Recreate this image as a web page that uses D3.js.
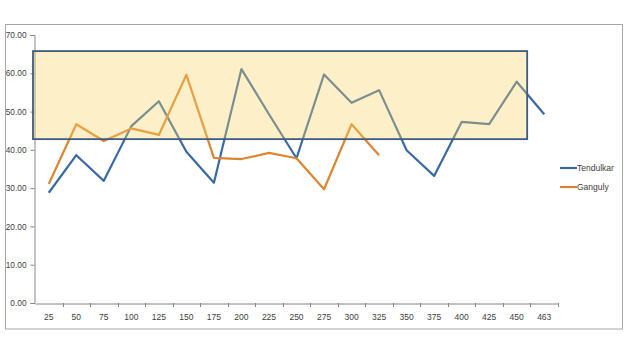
<!DOCTYPE html>
<html><head><meta charset="utf-8">
<script src="https://cdn.jsdelivr.net/npm/d3@7/dist/d3.min.js"></script>
<style>body{margin:0;background:#fff}svg{display:block}text{font-family:"Liberation Sans","Open Sans",sans-serif;fill:#404040}</style>
</head><body><svg id="c" width="628" height="355"></svg>
<script>
const categories = ["25","50","75","100","125","150","175","200","225","250","275","300","325","350","375","400","425","450","463"];
const tendulkar = [28.8,38.6,31.9,46.2,52.7,39.5,31.4,61.1,49.3,37.8,59.7,52.3,55.6,39.9,33.2,47.3,46.7,57.8,49.3];
const ganguly = [31.1,46.7,42.3,45.6,43.9,59.6,37.9,37.6,39.2,37.8,29.7,46.7,38.6];
const yTicks = [0,10,20,30,40,50,60,70];
const highlightRange = [42.8,65.8];
const seriesNames = ["Tendulkar","Ganguly"];
const colors = ["#3A6AA6","#DD8530"];

const svg = d3.select("#c");
const L=35, R=558, T=35, B=303;
svg.append("rect").attr("x",5.5).attr("y",24.5).attr("width",617).attr("height",304.5)
  .attr("fill","#fff").attr("stroke","#A6A6A6").attr("stroke-width",1);

const x = d3.scaleBand().domain(categories).range([L,R]);
const y = d3.scaleLinear().domain([0,70]).range([B,T]);

const yAxis = svg.append("g").attr("transform",`translate(${L-0.5},0)`)
  .call(d3.axisLeft(y).tickValues(yTicks).tickFormat(d3.format(".2f")).tickSize(4).tickPadding(4));
yAxis.select(".domain").attr("stroke","#868686");
yAxis.selectAll(".tick line").attr("stroke","#868686");
yAxis.selectAll("text").attr("font-size",8.3).attr("fill","#404040");

const xAxis = svg.append("g").attr("transform",`translate(0,${B+0.5})`)
  .call(d3.axisBottom(x).tickSize(0).tickPadding(10));
xAxis.select(".domain").attr("stroke","#868686");
xAxis.selectAll("text").attr("font-size",8.5).attr("fill","#404040");
svg.append("g").selectAll("line").data(categories).join("line")
  .attr("x1",(d,i)=>Math.round(L+x.step()*(i+1))+0.5).attr("x2",(d,i)=>Math.round(L+x.step()*(i+1))+0.5)
  .attr("y1",B).attr("y2",B+4).attr("stroke","#868686");

const line = d3.line().x((d,i)=>x(categories[i])+x.bandwidth()/2).y(d=>y(d));
[tendulkar,ganguly].forEach((s,k)=>{
  svg.append("path").datum(s).attr("d",line).attr("fill","none")
    .attr("stroke",colors[k]).attr("stroke-width",2.2).attr("stroke-linejoin","round");
});

const rx0 = L-2, rx1 = x("450")+x.bandwidth()*0.88;
svg.append("rect").attr("x",rx0).attr("y",y(highlightRange[1]))
  .attr("width",rx1-rx0).attr("height",y(highlightRange[0])-y(highlightRange[1]))
  .attr("fill","rgb(250,212,100)").attr("fill-opacity",0.35)
  .attr("stroke","#3E5B80").attr("stroke-width",1.8);

const lg = svg.append("g");
seriesNames.forEach((n,k)=>{
  const ly = 168 + k*19;
  lg.append("line").attr("x1",560).attr("x2",577).attr("y1",ly).attr("y2",ly)
    .attr("stroke",colors[k]).attr("stroke-width",2.2);
  lg.append("text").attr("x",577).attr("y",ly+3).attr("font-size",8.5).text(n);
});
</script></body></html>
